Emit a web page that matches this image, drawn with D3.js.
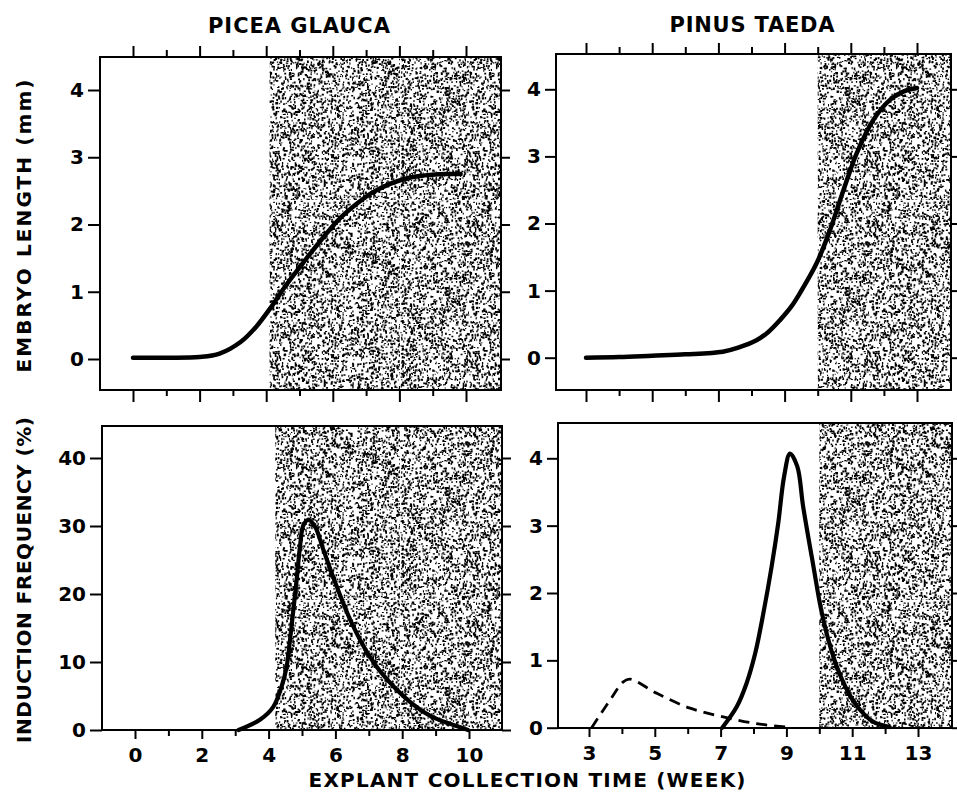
<!DOCTYPE html>
<html><head><meta charset="utf-8">
<script src="https://cdn.jsdelivr.net/npm/d3@7"></script>
<style>body{margin:0;background:#fff} svg{display:block}</style>
</head><body><svg id="chart" width="957" height="807"></svg>
<script>
// ---------- DATA ----------
const titles = ["PICEA GLAUCA", "PINUS TAEDA"];
const yTitleTop = "EMBRYO LENGTH (mm)";
const yTitleBottom = "INDUCTION FREQUENCY (%)";
const xTitle = "EXPLANT COLLECTION TIME (WEEK)";

const piceaTicks = [0,1,2,3,4,5,6,7,8,9,10];
const piceaLabels = [0,2,4,6,8,10];
const pinusTicks = [3,4,5,6,7,8,9,10,11,12,13];
const pinusLabels = [3,5,7,9,11,13];
const lengthTicks = [0,1,2,3,4];
const piceaFreqTicks = [0,10,20,30,40];
const pinusFreqTicks = [0,1,2,3,4];

// shaded period start (week)
const piceaShadeStart = 4.15;
const pinusShadeStart = 10.0;

// Picea glauca embryo length (mm)
const piceaLenWeek = [0, 1, 2, 2.6, 3.25, 3.7, 4.13, 4.6, 5.17, 5.7, 6.17, 6.7, 7.17, 7.7, 8.18, 8.6, 8.98, 9.4, 9.84];
const piceaLenVal  = [0.02, 0.02, 0.03, 0.08, 0.26, 0.48, 0.76, 1.1, 1.47, 1.8, 2.07, 2.3, 2.47, 2.6, 2.68, 2.72, 2.74, 2.75, 2.75];

// Pinus taeda embryo length (mm)
const pinusLenWeek = [3, 4, 5, 6, 7.13, 7.6, 8.15, 8.5, 8.86, 9.2, 9.46, 9.97, 10.37, 10.78, 11.18, 11.69, 12.2, 12.6, 13.0];
const pinusLenVal  = [0, 0.01, 0.03, 0.05, 0.09, 0.15, 0.26, 0.38, 0.56, 0.76, 0.96, 1.41, 1.9, 2.5, 3.05, 3.55, 3.85, 3.97, 4.02];

// Picea glauca induction frequency (%)
const piceaFreqWeek = [3.1, 3.74, 4.14, 4.39, 4.54, 4.64, 4.74, 4.84, 4.94, 5.04, 5.19, 5.39, 5.64, 6.04, 6.5, 7.0, 7.36, 8.17, 8.87, 9.67, 9.97];
const piceaFreqVal  = [0, 1.5, 3.4, 6.4, 9.3, 13.2, 17.6, 22.1, 27, 30.1, 30.9, 29.9, 26.5, 21.1, 15.6, 11.0, 8.5, 4.4, 2.0, 0.5, 0];

// Pinus taeda induction frequency (%) - solid
const pinusFreqWeek = [7.05, 7.49, 7.79, 8.05, 8.3, 8.55, 8.75, 8.93, 9.11, 9.33, 9.51, 9.82, 10.07, 10.43, 10.8, 11.13, 11.63, 12.14];
const pinusFreqVal  = [0, 0.31, 0.66, 1.1, 1.7, 2.39, 3.03, 3.73, 4.07, 3.88, 3.28, 2.4, 1.72, 1.05, 0.6, 0.33, 0.09, 0.01];

// Pinus taeda induction frequency (%) - dashed
const pinusFreq2Week = [3.08, 3.64, 4.04, 4.25, 5.06, 6.07, 7.08, 8.09, 9.0];
const pinusFreq2Val  = [0, 0.41, 0.68, 0.72, 0.51, 0.29, 0.16, 0.06, 0.01];

// ---------- DRAW ----------
const svg = d3.select("#chart");
const FONT = "'DejaVu Sans', 'Liberation Sans', Arial, sans-serif";

// decorative stipple texture (deterministic seeded generator, not data)
function mulberry32(a){return function(){a|=0;a=a+0x6D2B79F5|0;let t=Math.imul(a^a>>>15,1|a);t=t+Math.imul(t^t>>>7,61|t)^t;return((t^t>>>14)>>>0)/4294967296;};}
const defs = svg.append("defs");
const T = 200;
const pat = defs.append("pattern").attr("id","stipple").attr("patternUnits","userSpaceOnUse")
  .attr("width",T).attr("height",T);
pat.append("rect").attr("width",T).attr("height",T).attr("fill","#fff");
const rnd = mulberry32(1234567);
let pd = "";
for (let i = 0; i < 5800; i++) {
  const x = rnd()*T, y = rnd()*T, w = 0.9 + rnd()*1.3, h = 0.9 + rnd()*1.6;
  pd += `M${x.toFixed(1)},${y.toFixed(1)}h${w.toFixed(1)}v${h.toFixed(1)}h${(-w).toFixed(1)}z`;
}
pat.append("path").attr("d", pd).attr("fill","#000");

function panel(cfg) {
  const g = svg.append("g");
  const x = d3.scaleLinear().domain(cfg.xDom).range(cfg.xRange);
  const y = d3.scaleLinear().domain(cfg.yDom).range(cfg.yRange);
  const [fx0, fx1] = cfg.fx, [fy0, fy1] = cfg.fy;
  const sx = x(cfg.shade);
  g.append("rect").attr("x", sx).attr("y", fy0).attr("width", fx1 - sx).attr("height", fy1 - fy0)
    .attr("fill","url(#stipple)");
  const line = d3.line().x(d => x(d[0])).y(d => y(d[1])).curve(d3.curveCatmullRom.alpha(0.5));
  cfg.series.forEach(s => {
    g.append("path").datum(d3.zip(s.w, s.v)).attr("d", line).attr("fill","none")
      .attr("stroke","#000").attr("stroke-width", s.sw).attr("stroke-linecap", s.dash ? "butt" : "round")
      .attr("stroke-linejoin","round").attr("stroke-dasharray", s.dash || null);
  });
  g.append("rect").attr("x",fx0).attr("y",fy0).attr("width",fx1-fx0).attr("height",fy1-fy0)
    .attr("fill","none").attr("stroke","#000").attr("stroke-width",2);

  const style = sel => {
    sel.select(".domain").remove();
    sel.selectAll("line").attr("stroke","#000").attr("stroke-width",2);
    sel.selectAll("text").attr("font-family",FONT).attr("font-weight","bold")
      .attr("font-size",20).attr("fill","#000");
  };
  const major = cfg.xTicks.filter(t => cfg.xMajor.includes(t));
  const minor = cfg.xTicks.filter(t => !cfg.xMajor.includes(t));
  if (cfg.topTicks) {
    g.append("g").attr("transform",`translate(0,${fy0})`)
      .call(d3.axisTop(x).tickValues(major).tickSize(11).tickFormat("")).call(style);
    g.append("g").attr("transform",`translate(0,${fy0})`)
      .call(d3.axisTop(x).tickValues(minor).tickSize(7).tickFormat("")).call(style);
  }
  g.append("g").attr("transform",`translate(0,${fy1})`)
    .call(d3.axisBottom(x).tickValues(major).tickSize(cfg.botMajor).tickPadding(9)
      .tickFormat(cfg.xLabels ? d3.format("d") : "")).call(style);
  g.append("g").attr("transform",`translate(0,${fy1})`)
    .call(d3.axisBottom(x).tickValues(minor).tickSize(cfg.botMinor).tickFormat("")).call(style);
  g.append("g").attr("transform",`translate(${fx0},0)`)
    .call(d3.axisLeft(y).tickValues(cfg.yTicks).tickSize(cfg.leftTick).tickPadding(cfg.leftPad).tickFormat(d3.format("d"))).call(style);
  g.append("g").attr("transform",`translate(${fx1},0)`)
    .call(d3.axisRight(y).tickValues(cfg.yTicks).tickSize(9).tickFormat("")).call(style);
}

panel({ xDom:[0,10], xRange:[133,466], yDom:[0,4], yRange:[359,90], fx:[100,501], fy:[57,390],
  shade: piceaShadeStart - 0.05, xTicks: piceaTicks, xMajor: piceaLabels, yTicks: lengthTicks,
  topTicks:true, botMajor:12, botMinor:6, xLabels:false, leftTick:12, leftPad:4,
  series:[{w:piceaLenWeek, v:piceaLenVal, sw:4.5}] });

panel({ xDom:[3,13], xRange:[586,917], yDom:[0,4], yRange:[357.7,89.3], fx:[556,951], fy:[54,390],
  shade: pinusShadeStart, xTicks: pinusTicks, xMajor: pinusLabels, yTicks: lengthTicks,
  topTicks:true, botMajor:12, botMinor:6, xLabels:false, leftTick:11, leftPad:4,
  series:[{w:pinusLenWeek, v:pinusLenVal, sw:4.5}] });

panel({ xDom:[0,10], xRange:[135,469], yDom:[0,40], yRange:[730,458], fx:[102,502], fy:[426,730],
  shade: piceaShadeStart + 0.05, xTicks: piceaTicks, xMajor: piceaLabels, yTicks: piceaFreqTicks,
  topTicks:false, botMajor:9, botMinor:6, xLabels:true, leftTick:12, leftPad:4,
  series:[{w:piceaFreqWeek, v:piceaFreqVal, sw:4.2}] });

panel({ xDom:[3,13], xRange:[589,918], yDom:[0,4], yRange:[727.7,458.3], fx:[558,952], fy:[423,728],
  shade: pinusShadeStart, xTicks: pinusTicks, xMajor: pinusLabels, yTicks: pinusFreqTicks,
  topTicks:false, botMajor:9, botMinor:6, xLabels:true, leftTick:11, leftPad:4,
  series:[{w:pinusFreqWeek, v:pinusFreqVal, sw:4.2},
          {w:pinusFreq2Week, v:pinusFreq2Val, sw:2.8, dash:"11,7"}] });

const txt = (s, x, y, len, size, rot) => {
  const t = svg.append("text").attr("x", x).attr("y", y).attr("text-anchor","middle")
    .attr("font-family",FONT).attr("font-weight","bold").attr("font-size",size).attr("fill","#000")
    .attr("textLength", len).attr("lengthAdjust","spacing").text(s);
  if (rot) t.attr("transform", `rotate(-90,${x},${y})`);
};
txt(titles[0], 299, 33, 182, 21);
txt(titles[1], 752, 32, 165, 21);
txt(yTitleTop, 31, 226, 293, 20, true);
txt(yTitleBottom, 31, 580, 326, 20, true);
txt(xTitle, 527, 787, 437, 20);
</script>
</body></html>
